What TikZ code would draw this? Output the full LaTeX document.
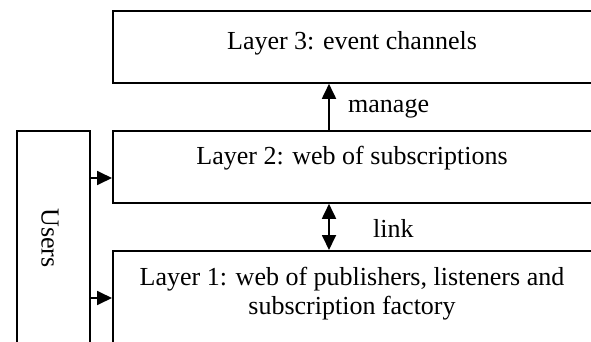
\documentclass[tikz,border=0pt]{standalone}
\usepackage{fontspec}
\setmainfont{Liberation Serif}
\usetikzlibrary{arrows.meta}
\begin{document}
\begin{tikzpicture}[x=1pt,y=-1pt,
  box/.style={draw, line width=1.8pt, inner sep=0pt, anchor=north west},
  lbl/.style={inner sep=0pt, font=\fontsize{26}{29}\selectfont},
  tip/.style={Triangle[length=15pt,width=14pt]},
  arr/.style={line width=1.8pt, -{Triangle[length=15pt,width=14pt]}},
  darr/.style={line width=1.8pt, {Triangle[length=15pt,width=14pt]}-{Triangle[length=15pt,width=14pt]}}]
\useasboundingbox (0,0) rectangle (591,342);
\clip (0,0) rectangle (591,342);
% boxes
\node[box, minimum width=500pt, minimum height=72pt] (l3) at (112,10) {};
\node[box, minimum width=500pt, minimum height=72pt] (l2) at (112,130) {};
\node[box, minimum width=500pt, minimum height=140pt] (l1) at (112,250) {};
\node[box, minimum width=73pt, minimum height=260pt] (users) at (16,130) {};
% texts
\node[lbl, anchor=base] (t3) at (352,50) {Layer 3: event channels};
\node[lbl, anchor=base] (t2) at (352,164) {Layer 2: web of subscriptions};
\node[lbl, align=center, anchor=center] (t1) at (352,293.5) {Layer 1: web of publishers, listeners and\\subscription factory};
\node[lbl, rotate=-90, anchor=center] (tu) at (50,238) {Users};
\node[lbl, anchor=base west] (tm) at (348,113) {manage};
\node[lbl, anchor=base west] (tl) at (373,237) {link};
% connector positions
\coordinate (ya) at (0,178);
\coordinate (yb) at (0,298);
\coordinate (xm) at (329,0);
% connectors
\draw[arr] (users.east |- ya) -- (l2.west |- ya);
\draw[arr] (users.east |- yb) -- (l1.west |- yb);
\draw[arr] (l2.north -| xm) -- (l3.south -| xm);
\draw[darr] (l2.south -| xm) -- (l1.north -| xm);
\end{tikzpicture}
\end{document}
